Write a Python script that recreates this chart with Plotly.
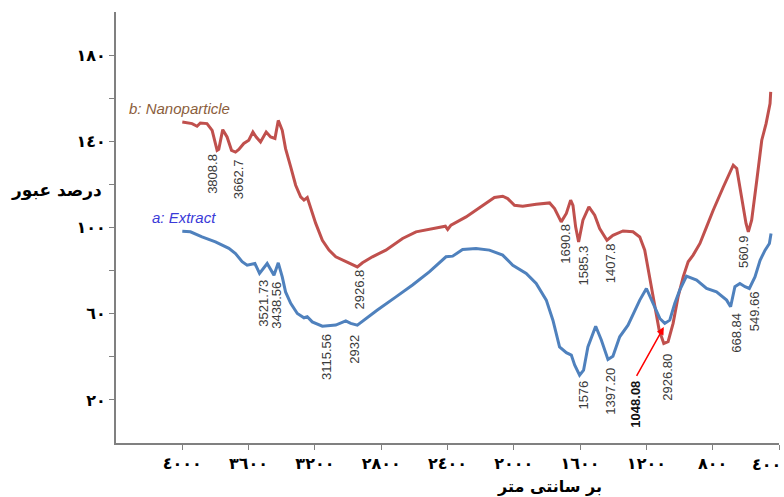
import plotly.graph_objects as go

# ---------------- data ----------------
# b: Nanoparticle (red)
nano_wn = [4000, 3941, 3911, 3891, 3851, 3820, 3790, 3780, 3756, 3730, 3703, 3679, 3659, 3629, 3599,
           3574, 3554, 3528, 3494, 3467, 3441, 3421, 3397, 3377, 3346, 3316, 3286, 3266, 3246, 3225,
           3195, 3155, 3115, 3074, 3014, 2944, 2913, 2853, 2772, 2671, 2590, 2490, 2413, 2399, 2379,
           2288, 2188, 2117, 2067, 2037, 1996, 1946, 1865, 1784, 1754, 1714, 1683, 1657, 1643, 1627,
           1609, 1583, 1547, 1512, 1482, 1438, 1402, 1341, 1281, 1240, 1210, 1180, 1150, 1123, 1095,
           1069, 1039, 1009, 978, 948, 918, 877, 837, 797, 736, 676, 655, 625, 599, 585,
           565, 534, 504, 478, 464, 454, 450]
nano_t = [149.0, 148.2, 147.0, 148.5, 148.2, 145.1, 135.8, 136.3, 145.4, 142.0, 135.8, 135.0, 136.2, 139.0, 140.5,
          144.3, 142.0, 139.7, 144.3, 142.0, 141.3, 149.7, 145.1, 136.6, 128.1, 119.6, 114.2, 112.7, 113.9, 108.8,
          101.9, 94.1, 89.5, 86.4, 84.1, 81.7, 83.6, 86.4, 89.5, 94.9, 98.0, 99.5, 100.6, 99.1, 101.1,
          104.9, 110.3, 113.9, 114.5, 113.4, 110.3, 109.9, 110.8, 111.4, 108.8, 102.6, 106.5, 112.7, 110.3, 100.3,
          93.3, 103.4, 109.6, 105.7, 99.5, 94.1, 96.4, 98.4, 98.0, 95.6, 89.5, 77.1, 64.8, 52.4, 46.2,
          47.0, 55.5, 67.8, 77.1, 84.1, 87.2, 92.6, 100.3, 108.0, 118.8, 128.9, 127.4, 114.2, 101.9, 98.0,
          103.4, 121.9, 140.5, 148.2, 152.9, 157.5, 162.9]

# a: Extract (blue)
ext_wn = [4000, 3951, 3881, 3800, 3719, 3679, 3639, 3609, 3562, 3534, 3488, 3447, 3421, 3397, 3377,
          3346, 3306, 3266, 3246, 3216, 3155, 3074, 3014, 2984, 2944, 2893, 2823, 2711, 2611, 2510,
          2409, 2369, 2309, 2228, 2147, 2067, 2006, 1925, 1865, 1804, 1764, 1724, 1683, 1653, 1633,
          1603, 1579, 1553, 1506, 1472, 1432, 1402, 1361, 1311, 1240, 1200, 1160, 1119, 1089, 1059,
          1029, 999, 958, 897, 837, 777, 716, 692, 666, 636, 605, 579, 545, 514, 484,
          458, 448]
ext_t = [98.3, 98.0, 95.6, 93.3, 90.3, 87.9, 84.1, 82.5, 83.3, 78.7, 83.3, 77.9, 83.6, 77.1, 70.1,
         64.8, 60.1, 58.1, 58.6, 56.2, 54.2, 54.7, 56.7, 55.5, 54.7, 57.8, 61.7, 67.8, 73.3, 79.4,
         86.4, 86.7, 89.8, 90.3, 89.5, 87.2, 82.5, 78.7, 74.0, 66.3, 57.0, 44.6, 41.9, 40.8, 36.2,
         31.5, 33.8, 44.6, 54.2, 47.8, 38.8, 40.3, 49.3, 54.7, 66.3, 71.7, 64.8, 57.8, 55.5, 57.0,
         64.8, 70.9, 77.4, 75.6, 71.7, 70.1, 66.3, 63.2, 72.5, 74.0, 72.5, 71.7, 77.1, 84.8, 89.5,
         92.6, 97.2]

# peak labels
nano_peak_text = ["3808.8", "3662.7", "2926.8", "1690.8", "1585.3", "1407.8", "2926.80", "560.9"]
nano_peak_wn = [3822, 3659, 2933, 1693, 1578, 1415, 1071, 613]
nano_peak_t = [135.0, 132.5, 81.5, 102.5, 92.5, 93.5, 42.5, 97.5]

ext_peak_text = ["3521.73", "3438.56", "3115.56", "2932", "1576", "1397.20", "668.84", "549.66"]
ext_peak_wn = [3507, 3429, 3133, 2963, 1578, 1415, 658, 543]
ext_peak_t = [76.5, 76.0, 51.5, 51.0, 30.0, 36.0, 61.5, 71.5]

marked_text = "1048.08"
marked_wn = 1264
marked_t = 30.0
arrow_head = (1095, 53.8)

x_ticks = [4000, 3600, 3200, 2800, 2400, 2000, 1600, 1200, 800, 400]
x_ticktext = ["٤٠٠٠", "٣٦٠٠", "٣٢٠٠", "٢٨٠٠", "٢٤٠٠", "٢٠٠٠", "١٦٠٠", "١٢٠٠", "٨٠٠", "٤٠٠"]
y_ticks = [20, 40, 60, 80, 100, 120, 140, 160, 180]
y_ticktext = ["٢٠", "", "٦٠", "", "١٠٠", "", "١٤٠", "", "١٨٠"]

# ---------------- figure ----------------
RED = "#C0504D"
BLUE = "#4F81BD"
fig = go.Figure()
fig.add_trace(go.Scatter(x=nano_wn, y=nano_t, mode="lines", line=dict(color=RED, width=3),
                         showlegend=False, hoverinfo="skip"))
fig.add_trace(go.Scatter(x=ext_wn, y=ext_t, mode="lines", line=dict(color=BLUE, width=3),
                         showlegend=False, hoverinfo="skip"))

ann = []
lab_font = dict(family="Liberation Sans, Arial", size=13, color="#3a3a3a")
for txt, xw, yt in list(zip(nano_peak_text, nano_peak_wn, nano_peak_t)) + \
        list(zip(ext_peak_text, ext_peak_wn, ext_peak_t)):
    ann.append(dict(x=xw, y=yt, xref="x", yref="y", text=txt, textangle=-90, showarrow=False,
                    xanchor="center", yanchor="top", font=lab_font))
ann.append(dict(x=marked_wn, y=marked_t, xref="x", yref="y", text="<b>" + marked_text + "</b>",
                textangle=-90, showarrow=False, xanchor="center", yanchor="top",
                font=dict(family="Liberation Sans, Arial", size=13, color="#111111")))
ann.append(dict(x=arrow_head[0], y=arrow_head[1], xref="x", yref="y", ax=marked_wn, ay=marked_t + 0.5,
                axref="x", ayref="y", text="", showarrow=True, arrowhead=2, arrowsize=1,
                arrowwidth=1.5, arrowcolor="#FF0000"))
# series names
ann.append(dict(x=0.016, y=155.3, xref="paper", yref="y", text="<i>b: Nanoparticle</i>", showarrow=False,
                xanchor="left", yanchor="middle",
                font=dict(family="Liberation Sans, Arial", size=15, color="#8B5E3C")))
ann.append(dict(x=0.052, y=104.5, xref="paper", yref="y", text="<i>a: Extract</i>", showarrow=False,
                xanchor="left", yanchor="middle",
                font=dict(family="Liberation Sans, Arial", size=15, color="#3A3AD8")))
# last x tick label kept inside the picture (the edge would otherwise cut it)
ann.append(dict(x=1.006, y=-0.049, xref="paper", yref="paper", text=x_ticktext[-1], showarrow=False,
                xanchor="right", yanchor="middle",
                font=dict(family="DejaVu Sans", size=16, color="#000000", weight="bold")))
# axis titles
ann.append(dict(x=-0.089, y=0.587, xref="paper", yref="paper", text="درصد عبور", showarrow=False,
                xanchor="center", yanchor="middle",
                font=dict(family="DejaVu Sans", size=17, color="#000000", weight="bold")))
ann.append(dict(x=0.6546, y=-0.102, xref="paper", yref="paper", text="بر سانتی متر", showarrow=False,
                xanchor="center", yanchor="middle",
                font=dict(family="DejaVu Sans", size=16, color="#000000", weight="bold")))

fig.update_layout(
    width=784, height=497,
    margin=dict(l=116, r=5, t=12, b=54, autoexpand=False),
    paper_bgcolor="white", plot_bgcolor="white",
    annotations=ann,
    xaxis=dict(range=[4400, 400], showgrid=False, zeroline=False, showline=True, linecolor="#808080",
               linewidth=2, ticks="outside", ticklen=5, tickcolor="#808080", tickwidth=1,
               tickvals=x_ticks, ticktext=x_ticktext[:-1] + [""], automargin=False,
               tickfont=dict(family="DejaVu Sans", size=16, color="#000000", weight="bold")),
    yaxis=dict(range=[0, 200], showgrid=False, zeroline=False, showline=True, linecolor="#808080",
               linewidth=2, ticks="outside", ticklen=5, tickcolor="#808080", tickwidth=1,
               tickvals=y_ticks, ticktext=y_ticktext, automargin=False,
               tickfont=dict(family="DejaVu Sans", size=16, color="#000000", weight="bold")),
)

fig.write_html("out.html")
